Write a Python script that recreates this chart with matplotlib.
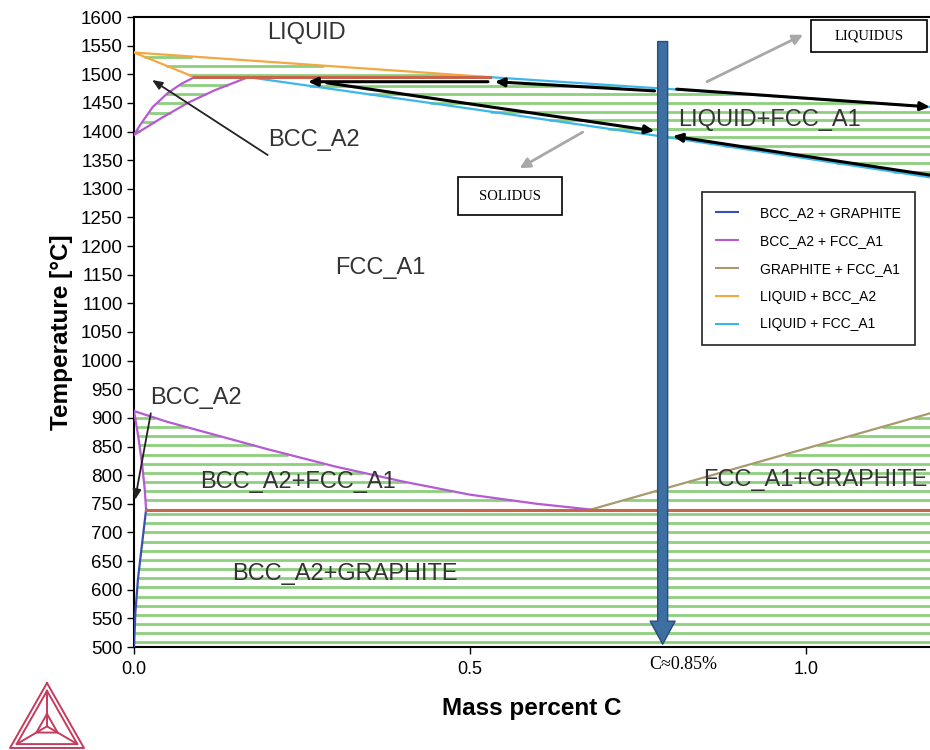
## Fe-C phase diagram (stable, with graphite) - low carbon corner
import numpy as np
import matplotlib.pyplot as plt
from matplotlib.lines import Line2D
from matplotlib.patches import Rectangle, FancyArrowPatch

plt.rcParams['font.family'] = ['Liberation Sans', 'DejaVu Sans']

# limits of the plot
x_max = 1.185
t_min, t_max = 500, 1600

# phase boundaries (mass percent C, temperature C)
liq_bcc_x = [0.0, 0.53]              # liquidus towards BCC
liq_bcc_t = [1538, 1495]
sol_bcc_x = [0.0, 0.09]              # BCC solidus
sol_bcc_t = [1538, 1495]
delta_x = [0.0, 0.01, 0.028, 0.05, 0.07, 0.09]        # BCC side of BCC+FCC (high T)
delta_t = [1394, 1413, 1443, 1467, 1483, 1495]
gamma_hi_x = [0.0, 0.04, 0.08, 0.12, 0.17]            # FCC side of BCC+FCC (high T)
gamma_hi_t = [1394, 1423, 1450, 1472, 1495]
liq_fcc_x = [0.53, 0.8, 1.0, 1.185]  # liquidus towards FCC
liq_fcc_t = [1495, 1474, 1458, 1443]
sol_fcc_x = [0.17, 0.5, 0.8, 1.185]  # FCC solidus
sol_fcc_t = [1495, 1440, 1389, 1320]
alpha_x = [0.0, 0.006, 0.012, 0.016, 0.018]           # BCC side of BCC+FCC (low T)
alpha_t = [912, 870, 820, 775, 740]
a3_x = [0.0, 0.05, 0.1, 0.2, 0.3, 0.4, 0.5, 0.6, 0.68]  # FCC side of BCC+FCC (low T)
a3_t = [912, 893, 877, 845, 815, 789, 766, 750, 740]
acm_x = [0.68, 1.185]                # FCC / FCC+graphite
acm_t = [740, 908]
solvus_x = [0.0, 0.002, 0.006, 0.012, 0.018]          # BCC / BCC+graphite
solvus_t = [500, 560, 620, 680, 740]

# invariant lines
peritectic_t = 1495
peritectic_x = [0.09, 0.53]
eutectoid_t = 740
eutectoid_x = [0.018, x_max]

legend_labels = ["BCC_A2 + GRAPHITE", "BCC_A2 + FCC_A1", "GRAPHITE + FCC_A1",
                 "LIQUID + BCC_A2", "LIQUID + FCC_A1"]
legend_colors = ["#3a4fb0", "#b45ad2", "#a89a6c", "#f5a742", "#3cb6ee"]
c_bcc_gr, c_bcc_fcc, c_gr_fcc, c_liq_bcc, c_liq_fcc = legend_colors
c_inv = "#c8644a"
c_tie = "#8ccf7c"

y_ticks = list(range(500, 1601, 50))
x_ticks = [0.0, 0.5, 1.0]
x_tick_labels = ["0.0", "0.5", "1.0"]

fig = plt.figure(figsize=(9.3, 7.5), dpi=100)
ax = fig.add_axes([134 / 930, 103 / 750, 1 - 134 / 930, 630 / 750])


def tie_lines(temps, lx, lt, rx, rt):
    # horizontal tie lines between two boundaries (interp on temperature)
    lo = np.argsort(lt)
    ro = np.argsort(rt)
    for t in temps:
        xl = np.interp(t, np.array(lt)[lo], np.array(lx)[lo])
        xr = np.interp(t, np.array(rt)[ro], np.array(rx)[ro])
        ax.plot([xl, xr], [t, t], color=c_tie, lw=2.0, zorder=1, solid_capstyle='butt')


# tie lines in every two phase field
tie_lines(np.arange(1499, 1538, 16), sol_bcc_x, sol_bcc_t, liq_bcc_x, liq_bcc_t)
tie_lines(np.arange(1401, 1494, 16), delta_x, delta_t, gamma_hi_x, gamma_hi_t)
tie_lines(np.arange(1480, 1320, -15), sol_fcc_x, sol_fcc_t,
          liq_fcc_x + [x_max], liq_fcc_t + [1300])
tie_lines(np.arange(756, 912, 16), alpha_x, alpha_t, a3_x, a3_t)
tie_lines(np.arange(756, 908, 16), acm_x, acm_t, [x_max, x_max], [700, 920])
tie_lines(np.arange(508, 740, 16), solvus_x, solvus_t, [x_max, x_max], [400, 760])

# phase boundaries
ax.plot(liq_bcc_x, liq_bcc_t, color=c_liq_bcc, lw=1.6, zorder=3)
ax.plot(sol_bcc_x, sol_bcc_t, color=c_liq_bcc, lw=1.6, zorder=3)
ax.plot(delta_x, delta_t, color=c_bcc_fcc, lw=1.6, zorder=3)
ax.plot(gamma_hi_x, gamma_hi_t, color=c_bcc_fcc, lw=1.6, zorder=3)
ax.plot(liq_fcc_x, liq_fcc_t, color=c_liq_fcc, lw=1.6, zorder=3)
ax.plot(sol_fcc_x, sol_fcc_t, color=c_liq_fcc, lw=1.6, zorder=3)
ax.plot(alpha_x, alpha_t, color=c_bcc_fcc, lw=1.6, zorder=3)
ax.plot(a3_x, a3_t, color=c_bcc_fcc, lw=1.6, zorder=3)
ax.plot(acm_x, acm_t, color=c_gr_fcc, lw=1.6, zorder=3)
ax.plot(solvus_x, solvus_t, color=c_bcc_gr, lw=1.6, zorder=3)
ax.plot(peritectic_x, [peritectic_t] * 2, color=c_inv, lw=2.2, zorder=3)
ax.plot(eutectoid_x, [eutectoid_t] * 2, color=c_inv, lw=2.2, zorder=3)

# region labels
lab = dict(fontsize=17, color='#333333', zorder=6)
ax.text(0.257, 1572, "LIQUID", ha='center', va='center', **lab)
ax.text(0.366, 1162, "FCC_A1", ha='center', va='center', **lab)
ax.text(0.81, 1420, "LIQUID+FCC_A1", ha='left', va='center', **lab)
ax.text(0.199, 1385, "BCC_A2", ha='left', va='center', **lab)
ax.text(0.024, 935, "BCC_A2", ha='left', va='center', **lab)
ax.text(0.244, 788, "BCC_A2+FCC_A1", ha='center', va='center', **lab)
ax.text(1.181, 792, "FCC_A1+GRAPHITE", ha='right', va='center', **lab)
ax.text(0.314, 627, "BCC_A2+GRAPHITE", ha='center', va='center', **lab)

# black arrows along liquidus / solidus
black = dict(arrowstyle='-|>,head_width=0.25,head_length=0.55', color='black', lw=2.2,
             shrinkA=0, shrinkB=0)
for (x0, y0), (x1, y1) in [((0.527, 1487), (0.259, 1487)),
                           ((0.775, 1471), (0.537, 1487)),
                           ((0.808, 1474), (1.185, 1443)),
                           ((0.287, 1485), (0.775, 1401)),
                           ((1.185, 1324), (0.802, 1392))]:
    ax.annotate("", xy=(x1, y1), xytext=(x0, y0), arrowprops=black, zorder=5,
                annotation_clip=False)

# gray arrows to the boxes
gray = dict(arrowstyle='-|>,head_width=0.3,head_length=0.6', color='#a8a8a8', lw=2,
            shrinkA=0, shrinkB=0)
ax.annotate("", xy=(0.996, 1569), xytext=(0.853, 1487), arrowprops=gray, annotation_clip=False)
ax.annotate("", xy=(0.574, 1336), xytext=(0.668, 1399), arrowprops=gray)

# thin arrows to the BCC_A2 fields
thin = dict(arrowstyle='-|>,head_width=0.25,head_length=0.6', color='#222222', lw=1.3,
            shrinkA=0, shrinkB=0)
ax.annotate("", xy=(0.027, 1490), xytext=(0.199, 1359), arrowprops=thin)
ax.annotate("", xy=(0.0015, 757), xytext=(0.025, 908), arrowprops=thin, annotation_clip=False)

# big vertical arrow at the chosen composition
big = FancyArrowPatch((0.787, 1562), (0.787, 500),
                      arrowstyle='simple,tail_width=0.72,head_width=1.8,head_length=1.66',
                      mutation_scale=10, facecolor='#3d6fa3', edgecolor='#2a4d78',
                      lw=1, zorder=7, clip_on=False)
ax.add_patch(big)

# axes
ax.set_xlim(0, x_max)
ax.set_ylim(t_min, t_max)
ax.set_yticks(y_ticks)
ax.set_xticks(x_ticks)
ax.set_xticklabels(x_tick_labels)
ax.tick_params(axis='y', labelsize=13.5, length=5, width=1, direction='out', pad=3)
ax.tick_params(axis='x', labelsize=13, length=5, width=1, direction='out', pad=5)
for s in ['left', 'bottom', 'top']:
    ax.spines[s].set_linewidth(1.5)
ax.spines['right'].set_visible(False)
ax.set_ylabel("Temperature [°C]", fontsize=17.5, fontweight='bold', labelpad=6)
ax.set_xlabel("Mass percent C", fontsize=17.5, fontweight='bold', labelpad=14)
ax.text(0.817, -0.015, "C≈0.85%", transform=ax.get_xaxis_transform(), ha='center',
        va='top', fontsize=13, family=['Liberation Serif', 'DejaVu Serif'])

# legend
handles = [Line2D([0], [0], color=c, lw=1.5) for c in legend_colors]
leg = ax.legend(handles, legend_labels, loc='upper left',
                bbox_to_anchor=(702 / 930, 1 - 192 / 750), bbox_transform=fig.transFigure,
                fontsize=10, frameon=True, fancybox=False, framealpha=1,
                edgecolor='#222222', borderpad=1.0, labelspacing=1.0,
                handlelength=1.6, handletextpad=1.6, borderaxespad=0)
leg.get_frame().set_linewidth(1.2)
leg.set_zorder(8)


# boxes with LIQUIDUS / SOLIDUS (pixel positions of the picture)
def px(x, y):
    return x / 930, 1 - y / 750


for (x0, y0, x1, y1, txt) in [(811, 20, 927, 52, "LIQUIDUS"), (458, 177, 562, 215, "SOLIDUS")]:
    fig.add_artist(Rectangle(px(x0, y1), (x1 - x0) / 930, (y1 - y0) / 750,
                             transform=fig.transFigure, facecolor='white',
                             edgecolor='black', lw=1.2, zorder=9))
    fig.text(*px((x0 + x1) / 2, (y0 + y1) / 2), txt, ha='center', va='center',
             fontsize=10.5, family=['Liberation Serif', 'DejaVu Serif'], zorder=10)

# logo (triangle) bottom left
red = '#c43c5c'
A, B, C = np.array([47, 683]), np.array([10, 748]), np.array([84, 748])
G = (A + B + C) / 3
inner = [G + 0.82 * (P - G) for P in (A, B, C)]
small = [G + 0.35 * (P - G) for P in inner]
tris = [[A, B, C], inner, small]
for tri in tris:
    pts = tri + [tri[0]]
    fig.add_artist(Line2D([px(*p)[0] for p in pts], [px(*p)[1] for p in pts],
                          transform=fig.transFigure, color=red, lw=1.4))
for P in inner:
    fig.add_artist(Line2D([px(*G)[0], px(*P)[0]], [px(*G)[1], px(*P)[1]],
                          transform=fig.transFigure, color=red, lw=1.4))

plt.savefig("out.png", dpi=100)
